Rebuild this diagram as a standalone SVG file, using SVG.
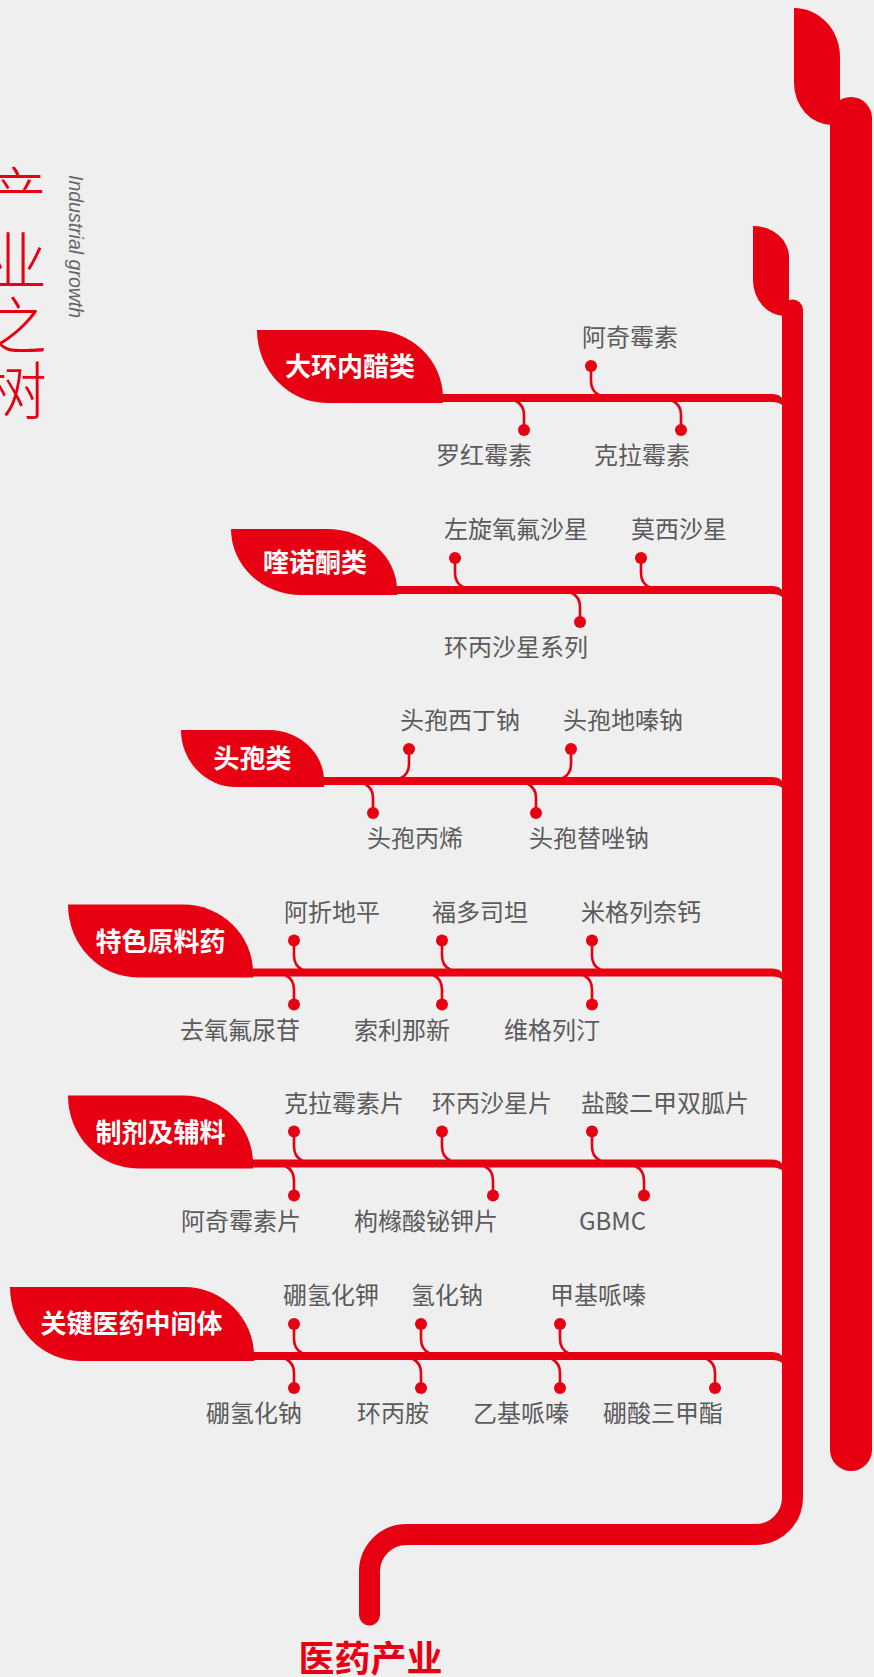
<svg xmlns="http://www.w3.org/2000/svg" width="874" height="1677" viewBox="0 0 874 1677">
<style>
.bg{fill:#efefef}
.red{fill:#e60012}
.trunk{fill:none;stroke:#e60012;stroke-linecap:round}
.stem{fill:none;stroke:#e60012;stroke-width:2.6;stroke-linecap:round}
.item{font-family:"Noto Sans CJK SC","Noto Sans",sans-serif;font-size:24px;fill:#5b5b5b}
.cat{font-family:"Noto Sans CJK SC","Noto Sans",sans-serif;font-size:26px;font-weight:700;fill:#ffffff;text-anchor:middle}
.title{font-family:"Noto Sans CJK SC",sans-serif;font-size:63px;font-weight:300;fill:#e60012}
.sub{font-family:"Liberation Sans",Arial,sans-serif;font-size:19.5px;font-style:italic;fill:#666666}
.root{font-family:"Noto Sans CJK SC",sans-serif;font-size:36px;font-weight:700;fill:#e60012;text-anchor:middle}
</style>
<rect class="bg" x="0" y="0" width="874" height="1677"/>

<g id="title">
<text class="title" x="15.5" y="164" writing-mode="vertical-rl" letter-spacing="2">产业之树</text>
<text class="sub" transform="translate(69,175) rotate(90)">Industrial growth</text>
</g>

<g id="top-leaves">
<path class="red" d="M794,8 A46,49 0 0 1 840,57 V125 H832 A38,42 0 0 1 794,83 Z"/>
<path class="red" d="M753,226 A36,31 0 0 1 789,257 V316 H785 A32,36 0 0 1 753,280 Z"/>
</g>

<g id="connectors">
<path class="trunk" stroke-width="42" d="M851,118 V1450"/>
<path class="trunk" stroke-width="21" d="M792.5,310 V1497.5 A37,37 0 0 1 755.5,1534.5 H406.5 A37,37 0 0 0 369.5,1571.5 V1615"/>
<g transform="translate(0,398)">
<path class="red" d="M441,-4 H772 Q781,-4 783,2 V8 Q780,4 772,4 H441 Z"/>
<path class="stem" d="M591,-32 V-17 Q591,-7 599,-3"/>
<path class="stem" d="M516,3 Q524,7 524,17 V32"/>
<path class="stem" d="M673,3 Q681,7 681,17 V32"/>
</g>
<g transform="translate(0,590)">
<path class="red" d="M395,-4 H772 Q781,-4 783,2 V8 Q780,4 772,4 H395 Z"/>
<path class="stem" d="M455,-32 V-17 Q455,-7 463,-3"/>
<path class="stem" d="M641,-32 V-17 Q641,-7 649,-3"/>
<path class="stem" d="M572,3 Q580,7 580,17 V32"/>
</g>
<g transform="translate(0,781)">
<path class="red" d="M322,-4 H772 Q781,-4 783,2 V8 Q780,4 772,4 H322 Z"/>
<path class="stem" d="M409,-32 V-17 Q409,-7 401,-3"/>
<path class="stem" d="M571,-32 V-17 Q571,-7 563,-3"/>
<path class="stem" d="M365,3 Q373,7 373,17 V32"/>
<path class="stem" d="M528,3 Q536,7 536,17 V32"/>
</g>
<g transform="translate(0,972.5)">
<path class="red" d="M251,-4 H772 Q781,-4 783,2 V8 Q780,4 772,4 H251 Z"/>
<path class="stem" d="M294,-32 V-17 Q294,-7 302,-3"/>
<path class="stem" d="M442,-32 V-17 Q442,-7 450,-3"/>
<path class="stem" d="M592,-32 V-17 Q592,-7 600,-3"/>
<path class="stem" d="M286,3 Q294,7 294,17 V32"/>
<path class="stem" d="M434,3 Q442,7 442,17 V32"/>
<path class="stem" d="M584,3 Q592,7 592,17 V32"/>
</g>
<g transform="translate(0,1163.5)">
<path class="red" d="M251,-4 H772 Q781,-4 783,2 V8 Q780,4 772,4 H251 Z"/>
<path class="stem" d="M294,-32 V-17 Q294,-7 302,-3"/>
<path class="stem" d="M442,-32 V-17 Q442,-7 450,-3"/>
<path class="stem" d="M592,-32 V-17 Q592,-7 600,-3"/>
<path class="stem" d="M286,3 Q294,7 294,17 V32"/>
<path class="stem" d="M485,3 Q493,7 493,17 V32"/>
<path class="stem" d="M636,3 Q644,7 644,17 V32"/>
</g>
<g transform="translate(0,1356)">
<path class="red" d="M252,-4 H772 Q781,-4 783,2 V8 Q780,4 772,4 H252 Z"/>
<path class="stem" d="M294,-32 V-17 Q294,-7 302,-3"/>
<path class="stem" d="M421,-32 V-17 Q421,-7 429,-3"/>
<path class="stem" d="M560,-32 V-17 Q560,-7 568,-3"/>
<path class="stem" d="M286,3 Q294,7 294,17 V32"/>
<path class="stem" d="M413,3 Q421,7 421,17 V32"/>
<path class="stem" d="M552,3 Q560,7 560,17 V32"/>
<path class="stem" d="M707,3 Q715,7 715,17 V32"/>
</g>
</g>

<g id="branch-1" transform="translate(0,398)">
<g id="cat-1"><path class="red" d="M257,-68 H373 A70,68 0 0 1 443,0 V5 H327 A70,73 0 0 1 257,-68 Z"/><text class="cat" x="350" y="-22">大环内醋类</text></g>
<g id="item-1-1"><circle class="red" cx="591" cy="-32" r="6"/><text class="item" x="582" y="-52">阿奇霉素</text></g>
<g id="item-1-2"><circle class="red" cx="524" cy="32" r="6"/><text class="item" x="436" y="66">罗红霉素</text></g>
<g id="item-1-3"><circle class="red" cx="681" cy="32" r="6"/><text class="item" x="594" y="66">克拉霉素</text></g>
</g>

<g id="branch-2" transform="translate(0,590)">
<g id="cat-2"><path class="red" d="M231,-61 H327 A70,61 0 0 1 397,0 V5 H301 A70,66 0 0 1 231,-61 Z"/><text class="cat" x="315" y="-18">喹诺酮类</text></g>
<g id="item-2-1"><circle class="red" cx="455" cy="-32" r="6"/><text class="item" x="444" y="-52">左旋氧氟沙星</text></g>
<g id="item-2-2"><circle class="red" cx="641" cy="-32" r="6"/><text class="item" x="631" y="-52">莫西沙星</text></g>
<g id="item-2-3"><circle class="red" cx="580" cy="32" r="6"/><text class="item" x="444" y="66">环丙沙星系列</text></g>
</g>

<g id="branch-3" transform="translate(0,781)">
<g id="cat-3"><path class="red" d="M181,-51 H269 A55,51 0 0 1 324,0 V6 H236 A55,57 0 0 1 181,-51 Z"/><text class="cat" x="252.5" y="-13">头孢类</text></g>
<g id="item-3-1"><circle class="red" cx="409" cy="-32" r="6"/><text class="item" x="400" y="-52">头孢西丁钠</text></g>
<g id="item-3-2"><circle class="red" cx="571" cy="-32" r="6"/><text class="item" x="563" y="-52">头孢地嗪钠</text></g>
<g id="item-3-3"><circle class="red" cx="373" cy="32" r="6"/><text class="item" x="367" y="66">头孢丙烯</text></g>
<g id="item-3-4"><circle class="red" cx="536" cy="32" r="6"/><text class="item" x="529" y="66">头孢替唑钠</text></g>
</g>

<g id="branch-4" transform="translate(0,972.5)">
<g id="cat-4"><path class="red" d="M68,-68 H183 A70,68 0 0 1 253,0 V5 H138 A70,73 0 0 1 68,-68 Z"/><text class="cat" x="160.5" y="-22">特色原料药</text></g>
<g id="item-4-1"><circle class="red" cx="294" cy="-32" r="6"/><text class="item" x="284" y="-52">阿折地平</text></g>
<g id="item-4-2"><circle class="red" cx="442" cy="-32" r="6"/><text class="item" x="432" y="-52">福多司坦</text></g>
<g id="item-4-3"><circle class="red" cx="592" cy="-32" r="6"/><text class="item" x="581" y="-52">米格列奈钙</text></g>
<g id="item-4-4"><circle class="red" cx="294" cy="32" r="6"/><text class="item" x="180" y="66">去氧氟尿苷</text></g>
<g id="item-4-5"><circle class="red" cx="442" cy="32" r="6"/><text class="item" x="354" y="66">索利那新</text></g>
<g id="item-4-6"><circle class="red" cx="592" cy="32" r="6"/><text class="item" x="504" y="66">维格列汀</text></g>
</g>

<g id="branch-5" transform="translate(0,1163.5)">
<g id="cat-5"><path class="red" d="M68,-68 H183 A70,68 0 0 1 253,0 V5 H138 A70,73 0 0 1 68,-68 Z"/><text class="cat" x="160.5" y="-22">制剂及辅料</text></g>
<g id="item-5-1"><circle class="red" cx="294" cy="-32" r="6"/><text class="item" x="284" y="-52">克拉霉素片</text></g>
<g id="item-5-2"><circle class="red" cx="442" cy="-32" r="6"/><text class="item" x="432" y="-52">环丙沙星片</text></g>
<g id="item-5-3"><circle class="red" cx="592" cy="-32" r="6"/><text class="item" x="581" y="-52">盐酸二甲双胍片</text></g>
<g id="item-5-4"><circle class="red" cx="294" cy="32" r="6"/><text class="item" x="181" y="66">阿奇霉素片</text></g>
<g id="item-5-5"><circle class="red" cx="493" cy="32" r="6"/><text class="item" x="354" y="66">枸橼酸铋钾片</text></g>
<g id="item-5-6"><circle class="red" cx="644" cy="32" r="6"/><text class="item" x="579" y="66">GBMC</text></g>
</g>

<g id="branch-6" transform="translate(0,1356)">
<g id="cat-6"><path class="red" d="M10,-69 H184 A70,69 0 0 1 254,0 V5 H80 A70,74 0 0 1 10,-69 Z"/><text class="cat" x="131.5" y="-23">关键医药中间体</text></g>
<g id="item-6-1"><circle class="red" cx="294" cy="-32" r="6"/><text class="item" x="283" y="-52">硼氢化钾</text></g>
<g id="item-6-2"><circle class="red" cx="421" cy="-32" r="6"/><text class="item" x="411" y="-52">氢化钠</text></g>
<g id="item-6-3"><circle class="red" cx="560" cy="-32" r="6"/><text class="item" x="550" y="-52">甲基哌嗪</text></g>
<g id="item-6-4"><circle class="red" cx="294" cy="32" r="6"/><text class="item" x="206" y="66">硼氢化钠</text></g>
<g id="item-6-5"><circle class="red" cx="421" cy="32" r="6"/><text class="item" x="357" y="66">环丙胺</text></g>
<g id="item-6-6"><circle class="red" cx="560" cy="32" r="6"/><text class="item" x="473" y="66">乙基哌嗪</text></g>
<g id="item-6-7"><circle class="red" cx="715" cy="32" r="6"/><text class="item" x="603" y="66">硼酸三甲酯</text></g>
</g>

<g id="root">
<text class="root" x="370.5" y="1672">医药产业</text>
</g>
</svg>
